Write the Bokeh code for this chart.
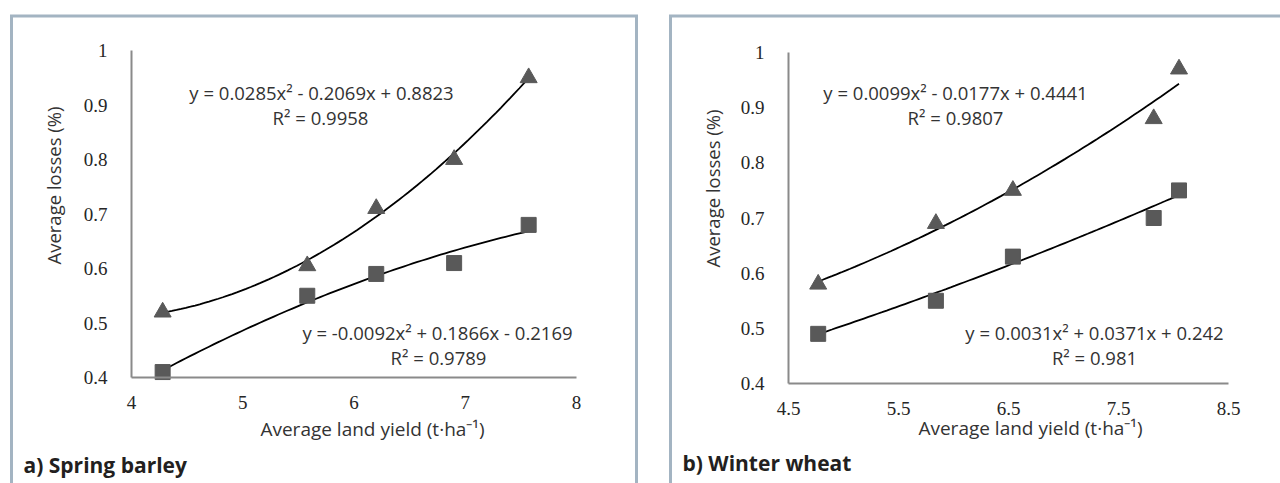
import numpy as np
from bokeh.plotting import figure
from bokeh.layouts import row
from bokeh.models import FixedTicker, NumeralTickFormatter, Label
from bokeh.embed import file_html
from bokeh.resources import INLINE
from bokeh.core.properties import value

# ---------------- data ----------------
# a) Spring barley
barley_yield = [4.28, 5.58, 6.20, 6.90, 7.57]
barley_loss_upper = [0.52, 0.605, 0.71, 0.80, 0.95]   # triangles
barley_loss_lower = [0.41, 0.55, 0.59, 0.61, 0.68]    # squares
barley_coef_upper = [0.0285, -0.2069, 0.8823]
barley_coef_lower = [-0.0092, 0.1866, -0.2169]
barley_eq_upper = ["y = 0.0285x² - 0.2069x + 0.8823", "R² = 0.9958"]
barley_eq_lower = ["y = -0.0092x² + 0.1866x - 0.2169", "R² = 0.9789"]
barley_xticks = [4, 5, 6, 7, 8]

# b) Winter wheat
wheat_yield = [4.77, 5.84, 6.54, 7.82, 8.05]
wheat_loss_upper = [0.58, 0.69, 0.75, 0.88, 0.97]     # triangles
wheat_loss_lower = [0.49, 0.55, 0.63, 0.70, 0.75]     # squares
wheat_coef_upper = [0.0099, -0.0177, 0.4441]
wheat_coef_lower = [0.0031, 0.0371, 0.242]
wheat_eq_upper = ["y = 0.0099x² - 0.0177x + 0.4441", "R² = 0.9807"]
wheat_eq_lower = ["y = 0.0031x² + 0.0371x + 0.242", "R² = 0.981"]
wheat_xticks = [4.5, 5.5, 6.5, 7.5, 8.5]

yticks = [0.4, 0.5, 0.6, 0.7, 0.8, 0.9, 1.0]
x_title = "Average land yield (t·ha⁻¹)"
y_title = "Average losses (%)"

BORDER = "#a3b4c2"
MARK = "#595959"
TXT = "#333333"
SANS = "Open Sans"
SERIF = "Liberation Serif, Times New Roman, DejaVu Serif, serif"

FIG_W, FIG_H = 640, 483


def panel(xs, up, lo, cu, cl, eq_u, eq_l, xticks, caption, layout):
    """layout: page-pixel geometry of the panel (figure origin, axis anchors,
    border path and text positions)."""
    ox, oy = layout["origin"]
    (px0, px1), (py0, py1) = layout["xpix"], layout["ypix"]   # axis ends in page px
    x0, x1, y0, y1 = xticks[0], xticks[-1], yticks[0], yticks[-1]
    sx = (px1 - px0) / (x1 - x0)
    sy = (py0 - py1) / (y1 - y0)

    def dx(px):
        return x0 + (px - px0) / sx

    def dy(py):
        return y0 + (py0 - py) / sy

    p = figure(width=FIG_W, height=FIG_H, output_backend="svg",
               toolbar_location=None,
               x_range=(dx(ox), dx(ox + FIG_W)), y_range=(dy(oy + FIG_H), dy(oy)),
               min_border=0)
    p.outline_line_color = None
    p.grid.visible = False
    p.background_fill_color = "white"
    p.border_fill_color = "white"

    p.xaxis.fixed_location = y0
    p.yaxis.fixed_location = x0
    p.xaxis.bounds = (x0, x1)
    p.yaxis.bounds = (y0, y1)
    for ax in (p.xaxis[0], p.yaxis[0]):
        ax.axis_line_color = "#8a8a8a"
        ax.axis_line_width = 2
        ax.major_tick_line_color = None
        ax.minor_tick_line_color = None
        ax.major_label_text_font = SERIF
        ax.major_label_text_font_size = "19px"
        ax.major_label_text_color = "#262626"
    p.xaxis.ticker = FixedTicker(ticks=xticks)
    p.yaxis.ticker = FixedTicker(ticks=yticks)
    p.yaxis.formatter = NumeralTickFormatter(format="0.[0]")
    p.xaxis.formatter = NumeralTickFormatter(format="0.[0]")
    p.xaxis.major_label_standoff = 12
    p.yaxis.major_label_standoff = 18

    # panel border (left / top / right edges)
    bx, by = zip(*layout["border"])
    p.line([dx(v) for v in bx], [dy(v) for v in by], line_color=BORDER,
           line_width=3, line_join="miter")

    xx = np.linspace(min(xs), max(xs), 80)
    p.line(xx, np.polyval(cu, xx), line_color="black", line_width=1.8)
    p.line(xx, np.polyval(cl, xx), line_color="black", line_width=1.8)
    p.scatter(xs, up, marker="triangle", size=17, fill_color=MARK, line_color=MARK)
    p.scatter(xs, lo, marker="square", size=15, fill_color=MARK, line_color=MARK)

    ex, ey = zip(*layout["eq"])
    p.text(x=[dx(v) for v in ex], y=[dy(v) for v in ey],
           text=[eq_u[0], eq_u[1], eq_l[0], eq_l[1]],
           text_font=value(SANS), text_font_size="18.5px", text_color=TXT,
           text_align="center", text_baseline="middle")

    tx, ty = layout["xtitle"]
    p.add_layout(Label(x=dx(tx), y=dy(ty), text=x_title, text_font=SANS,
                       text_font_size="19px", text_color=TXT,
                       text_align="center", text_baseline="middle"))
    tx, ty = layout["ytitle"]
    p.add_layout(Label(x=dx(tx), y=dy(ty), text=y_title, text_font=SANS,
                       text_font_size="18.5px", text_color=TXT, angle=np.pi / 2,
                       text_align="center", text_baseline="middle"))
    tx, ty = layout["caption"]
    p.add_layout(Label(x=dx(tx), y=dy(ty), text=caption, text_font=SANS,
                       text_font_size="21px", text_font_style="bold",
                       text_color="#231f20",
                       text_align="left", text_baseline="middle"))
    return p


layout_a = dict(origin=(0, 0), xpix=(131, 576), ypix=(377, 50),
                border=[(11, 490), (11, 15.5), (636, 15.5), (636, 490)],
                eq=[(321, 92), (320, 117), (437, 332), (438, 357)],
                xtitle=(372, 428), ytitle=(53, 185), caption=(23, 464))
layout_b = dict(origin=(640, 0), xpix=(788, 1228), ypix=(383, 52),
                border=[(670, 490), (670, 15.5), (1290, 15.5)],
                eq=[(955, 92), (955, 117), (1094, 332), (1094, 357)],
                xtitle=(1030, 427), ytitle=(712, 188), caption=(682, 462))

p1 = panel(barley_yield, barley_loss_upper, barley_loss_lower,
           barley_coef_upper, barley_coef_lower, barley_eq_upper, barley_eq_lower,
           barley_xticks, "a) Spring barley", layout_a)
p2 = panel(wheat_yield, wheat_loss_upper, wheat_loss_lower,
           wheat_coef_upper, wheat_coef_lower, wheat_eq_upper, wheat_eq_lower,
           wheat_xticks, "b) Winter wheat", layout_b)

layout = row(p1, p2, spacing=0)
open("out.html", "w").write(file_html(layout, INLINE))
